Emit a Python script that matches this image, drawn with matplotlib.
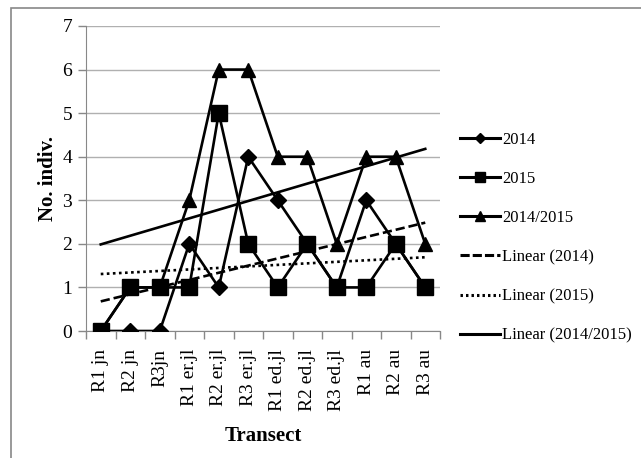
import numpy as np
import matplotlib
matplotlib.use("Agg")
import matplotlib.pyplot as plt
from matplotlib.lines import Line2D
from matplotlib.patches import Rectangle

plt.rcParams['font.family'] = ['Liberation Serif', 'DejaVu Serif']

# datos del grafico
transects = ["R1 jn", "R2 jn", "R3jn", "R1 er.jl", "R2 er.jl", "R3 er.jl",
             "R1 ed.jl", "R2 ed.jl", "R3 ed.jl", "R1 au", "R2 au", "R3 au"]
y2014 = [0, 0, 0, 2, 1, 4, 3, 2, 1, 3, 2, 1]
y2015 = [0, 1, 1, 1, 5, 2, 1, 2, 1, 1, 2, 1]
y_both = [0, 1, 1, 3, 6, 6, 4, 4, 2, 4, 4, 2]

W, H = 641, 458
fig = plt.figure(figsize=(W / 100, H / 100), dpi=100)

# marco del grafico (estilo Excel)
fig.patches.append(Rectangle((11 / W, -0.1), 1.0, (H - 8) / H + 0.1,
                             transform=fig.transFigure, fill=False,
                             edgecolor="#888888", linewidth=1.2))

ax = fig.add_axes([86 / W, 1 - 331 / H, (440 - 86) / W, (331 - 26) / H])

x = np.arange(len(transects))
lw = 1.9

ax.plot(x, y2014, color="black", lw=lw, marker="D", ms=8, zorder=4)
ax.plot(x, y2015, color="black", lw=lw, marker="s", ms=11, zorder=4)
ax.plot(x, y_both, color="black", lw=lw, marker="^", ms=10, zorder=4)

# lineas de tendencia lineal (como Excel)
xs = x + 1
for ys, ls in [(y2014, (0, (3.5, 1.5))), (y2015, (0, (1, 1.3))), (y_both, "-")]:
    m, b = np.polyfit(xs, ys, 1)
    ax.plot(x, m * xs + b, color="black", lw=lw, linestyle=ls, zorder=3)

ax.set_xlim(-0.5, len(transects) - 0.5)
ax.set_ylim(0, 7)
ax.set_yticks(range(8))
ax.yaxis.grid(True, color="#b0b0b0", lw=1.0)
ax.set_axisbelow(True)

ax.set_xticks(x)
ax.set_xticklabels(transects, rotation=90, fontsize=14)
ax.tick_params(axis="x", length=0, pad=13)
ax.set_xticks(np.arange(-0.5, len(transects)), minor=True)
ax.tick_params(axis="x", which="minor", length=6, color="#888888", width=1)
ax.tick_params(axis="y", labelsize=14, length=6, color="#888888", width=1, pad=4)

for s in ["top", "right"]:
    ax.spines[s].set_visible(False)
ax.spines["left"].set_color("#888888")
ax.spines["bottom"].set_color("#888888")

ax.set_ylabel("No. indiv.", fontsize=15, fontweight="bold", labelpad=3)
ax.set_xlabel("Transect", fontsize=15, fontweight="bold", labelpad=11)

handles = [
    Line2D([], [], color="black", lw=2.2, marker="D", ms=5),
    Line2D([], [], color="black", lw=2.2, marker="s", ms=7),
    Line2D([], [], color="black", lw=2.2, marker="^", ms=7),
    Line2D([], [], color="black", lw=2.2, linestyle=(0, (3, 1))),
    Line2D([], [], color="black", lw=2.2, linestyle=(0, (0.8, 1))),
    Line2D([], [], color="black", lw=2.2),
]
labels = ["2014", "2015", "2014/2015", "Linear (2014)", "Linear (2015)",
          "Linear (2014/2015)"]
fig.legend(handles, labels, loc="upper left", bbox_to_anchor=(452 / W, 1 - 124 / H),
           frameon=False, fontsize=12, handlelength=2.4, handletextpad=0.1,
           labelspacing=1.38, borderpad=0)

fig.savefig("out.png", dpi=100)
